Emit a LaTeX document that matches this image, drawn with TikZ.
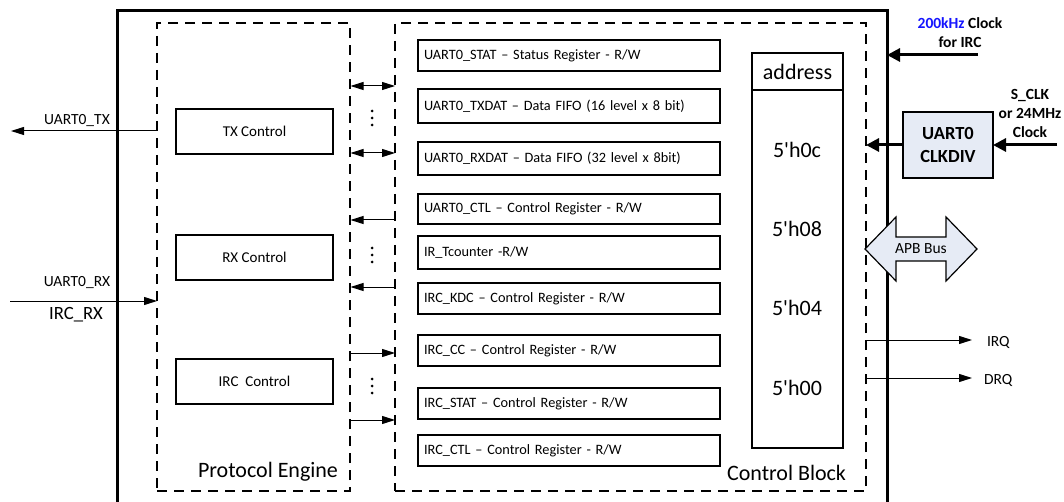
\documentclass[tikz,border=0pt]{standalone}
\usepackage{fontspec}
\setmainfont{Carlito}
\usetikzlibrary{arrows.meta}
\definecolor{boxfill}{RGB}{230,235,245}
\definecolor{clkblue}{RGB}{20,20,255}
\begin{document}
\begin{tikzpicture}[x=1pt,y=-1pt,
  every node/.style={inner sep=0pt, outer sep=0pt},
  dbox/.style={draw, line width=1.4pt, dash pattern=on 10pt off 7pt},
  ctrl/.style={draw, line width=1.3pt, minimum width=157pt, minimum height=45pt, font=\fontsize{15}{18}\selectfont},
  reg/.style={draw, line width=1.3pt, text width=290pt, inner xsep=6pt, align=left, minimum height=31pt, font=\fontsize{14.3}{17}\selectfont},
  addrbox/.style={draw, line width=2.6pt, minimum width=91pt},
  big/.style={font=\fontsize{22}{26}\selectfont},
  lbl/.style={font=\fontsize{15.5}{19}\selectfont},
  blbl/.style={font=\bfseries\fontsize{15.5}{19}\selectfont, align=center},
  sig/.style={-{Triangle[length=13pt,width=8pt]}, line width=1pt},
  dsig/.style={{Triangle[length=13pt,width=8pt]}-{Triangle[length=13pt,width=8pt]}, line width=1pt},
  clk/.style={-{Triangle[length=13pt,width=13pt]}, line width=3pt},
  dotmark/.style={fill, circle, minimum size=3pt}
]
\useasboundingbox (0,0) rectangle (1064,502);

% outer block
\draw[line width=3pt] (117,503) -- (117,11) -- (887,11) -- (887,503);

% dashed regions
\node[dbox, minimum width=193pt, minimum height=468pt] (pe) at (253.5,257) {};
\node[dbox, minimum width=471pt, minimum height=468pt] (cb) at (630.5,257) {};
\node[big, anchor=south east] (pelbl) at (338,481) {Protocol Engine};
\node[big, anchor=south east] (cblbl) at (846,481) {Control Block};

% protocol engine blocks
\node[ctrl] (tx) at (254.5,131.5) {TX Control};
\node[ctrl] (rx) at (254.5,257.5) {RX Control};
\node[ctrl] (irc) at (254.5,381.5) {IRC\ \ Control};

% registers
\node[reg] (r1) at (569,55.5) {UART0\_STAT – Status Register - R/W};
\node[reg, minimum height=34pt] (r2) at (569,106) {UART0\_TXDAT – Data FIFO (16 level x 8 bit)};
\node[reg, minimum height=33pt] (r3) at (569,158.5) {UART0\_RXDAT – Data FIFO (32 level x 8bit)};
\node[reg, minimum height=30pt] (r4) at (569,209) {UART0\_CTL – Control Register - R/W};
\node[reg, minimum height=33pt] (r5) at (569,252.5) {IR\_Tcounter -R/W};
\node[reg] (r6) at (569,298.5) {IRC\_KDC – Control Register - R/W};
\node[reg] (r7) at (569,350.5) {IRC\_CC – Control Register - R/W};
\node[reg] (r8) at (569,403.5) {IRC\_STAT – Control Register - R/W};
\node[reg] (r9) at (569,450.5) {IRC\_CTL – Control Register - R/W};

% address table
\node[addrbox, minimum height=358pt] (abody) at (797.5,269) {};
\node[addrbox, minimum height=37pt, big] (ahead) at (797.5,71.5) {address};
\node[big] (a0c) at (797,150) {5\textquotesingle h0c};
\node[big] (a08) at (797,229) {5\textquotesingle h08};
\node[big] (a04) at (797,308) {5\textquotesingle h04};
\node[big] (a00) at (797,388) {5\textquotesingle h00};

% links between protocol engine and control block
\coordinate (l1) at (350.5,86);  \coordinate (m1) at (395,86);
\coordinate (l2) at (350.5,153); \coordinate (m2) at (395,153);
\coordinate (l3) at (350.5,220); \coordinate (m3) at (395,220);
\coordinate (l4) at (350.5,287); \coordinate (m4) at (395,287);
\coordinate (l5) at (350.5,353); \coordinate (m5) at (395,353);
\coordinate (l6) at (350.5,420); \coordinate (m6) at (395,420);
\draw[dsig] (l1) -- (m1);
\draw[dsig] (l2) -- (m2);
\draw[sig] (m3) -- (l3);
\draw[sig] (m4) -- (l4);
\draw[sig] (l5) -- (m5);
\draw[sig] (l6) -- (m6);
\foreach \yy [count=\i] in {118,255,386}{
  \node[dotmark] (da\i) at (372,\yy-7) {};
  \node[dotmark] (db\i) at (372,\yy) {};
  \node[dotmark] (dc\i) at (372,\yy+7) {};
}

% left side signals
\coordinate (txin) at (157,131);
\coordinate (txout) at (11,131);
\draw[sig] (txin) -- (txout);
\node[lbl] (txlbl) at (77,121) {UART0\_TX};
\coordinate (rxsrc) at (10,301);
\coordinate (rxdst) at (157,301);
\draw[sig] (rxsrc) -- (rxdst);
\node[lbl] (rxlbl) at (77,283) {UART0\_RX};
\node[font=\fontsize{18.7}{22}\selectfont] (ircrx) at (76,315) {IRC\_RX};

% clocks
\node[draw, line width=1.3pt, fill=boxfill, minimum width=90pt, minimum height=66pt,
      font=\bfseries\fontsize{18.5}{23}\selectfont, align=center] (clkdiv) at (948,145) {UART0\\CLKDIV};
\coordinate (sclk) at (1057,145);
\coordinate (cbclk) at (866,145);
\draw[clk] (sclk) -- (clkdiv.east);
\draw[clk] (clkdiv.west) -- (cbclk);
\node[blbl] (sclklbl) at (1030,113) {S\_CLK\\or 24MHz\\Clock};
\coordinate (irsrc) at (978,55);
\coordinate (irdst) at (887,55);
\draw[clk] (irsrc) -- (irdst);
\node[blbl] (irclbl) at (960,33) {\textcolor{clkblue}{200kHz} Clock\\for IRC};

% APB bus
\draw[line width=1.2pt, fill=boxfill, line join=miter]
  (865,249) -- (896,217) -- (896,237) -- (946,237) -- (946,217) -- (977,249)
  -- (946,281) -- (946,261) -- (896,261) -- (896,281) -- cycle;
\node[lbl] (apb) at (921,249) {APB Bus};

% IRQ / DRQ
\coordinate (irqs) at (866,340); \coordinate (irqe) at (972,340);
\coordinate (drqs) at (866,378); \coordinate (drqe) at (972,378);
\draw[sig] (irqs) -- (irqe);
\draw[sig] (drqs) -- (drqe);
\node[lbl, anchor=west] (irq) at (987,342) {IRQ};
\node[lbl, anchor=west] (drq) at (984,380) {DRQ};
\end{tikzpicture}
\end{document}
